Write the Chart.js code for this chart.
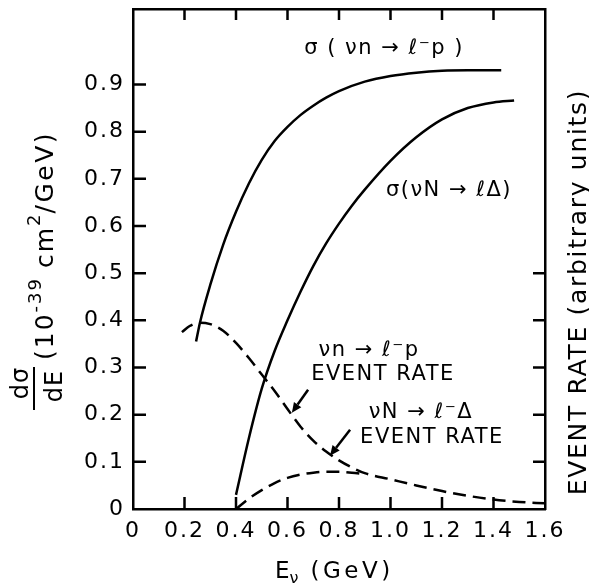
<!DOCTYPE html>
<html><head><meta charset="utf-8">
<script src="https://cdn.jsdelivr.net/npm/chart.js@4.4.0/dist/chart.umd.min.js"></script>
<style>html,body{margin:0;padding:0;background:#fff;} #wrap{width:589px;height:587px;}</style>
</head><body><div id="wrap"><canvas id="c" width="589" height="587"></canvas></div>
<script>
// ---- tick values / labels ----
const xTickValues = [0, 0.2, 0.4, 0.6, 0.8, 1.0, 1.2, 1.4, 1.6];
const xTickLabels = ['0', '0.2', '0.4', '0.6', '0.8', '1.0', '1.2', '1.4', '1.6'];
const yTickValues = [0, 0.1, 0.2, 0.3, 0.4, 0.5, 0.6, 0.7, 0.8, 0.9];
const yTickLabels = ['0', '0.1', '0.2', '0.3', '0.4', '0.5', '0.6', '0.7', '0.8', '0.9'];
const rightTickValues = [0.1, 0.2, 0.3, 0.4, 0.5];

// ---- series: sigma(nu n -> l- p) ----
const sigmaNpE = [0.245, 0.26, 0.30, 0.35, 0.40, 0.45, 0.50, 0.55, 0.60, 0.65, 0.70, 0.75, 0.80, 0.90, 1.00, 1.10, 1.20, 1.30, 1.43];
const sigmaNpV = [0.355, 0.395, 0.475, 0.56, 0.63, 0.69, 0.74, 0.78, 0.81, 0.835, 0.855, 0.872, 0.886, 0.906, 0.918, 0.925, 0.929, 0.93, 0.93];
// ---- sigma(nu N -> l Delta) ----
const sigmaDeltaE = [0.40, 0.45, 0.50, 0.55, 0.60, 0.65, 0.70, 0.75, 0.80, 0.85, 0.90, 1.00, 1.10, 1.20, 1.30, 1.40, 1.48];
const sigmaDeltaV = [0.03, 0.15, 0.255, 0.335, 0.40, 0.46, 0.515, 0.563, 0.605, 0.643, 0.677, 0.738, 0.788, 0.826, 0.85, 0.862, 0.866];
// ---- event rate nu n -> l- p ----
const rateNpE = [0.19, 0.22, 0.26, 0.30, 0.35, 0.40, 0.45, 0.50, 0.55, 0.60, 0.65, 0.70, 0.75, 0.80, 0.85, 0.90, 1.00, 1.10, 1.20, 1.30, 1.40, 1.50, 1.60];
const rateNpV = [0.375, 0.388, 0.395, 0.392, 0.378, 0.352, 0.320, 0.285, 0.250, 0.212, 0.175, 0.145, 0.122, 0.103, 0.088, 0.076, 0.063, 0.050, 0.038, 0.028, 0.020, 0.015, 0.012];
// ---- event rate nu N -> l- Delta ----
const rateDeltaE = [0.40, 0.45, 0.50, 0.55, 0.60, 0.65, 0.70, 0.75, 0.80, 0.85, 0.90];
const rateDeltaV = [0.0, 0.022, 0.040, 0.055, 0.066, 0.073, 0.077, 0.079, 0.079, 0.077, 0.074];

// ---- annotations (in data units) ----
const annotationTexts = [
  {text: 'σ ( νn → ℓ⁻p )', E: 0.975, v: 0.977},
  {text: 'σ(νN → ℓΔ)', E: 1.227, v: 0.676},
  {text: 'νn → ℓ⁻p', E: 0.917, v: 0.336},
  {text: 'EVENT RATE', E: 0.971, v: 0.285},
  {text: 'νN → ℓ⁻Δ', E: 1.118, v: 0.204},
  {text: 'EVENT RATE', E: 1.161, v: 0.151}
];
const annotationArrows = [
  {fromE: 0.680, fromV: 0.253, toE: 0.617, toV: 0.204},
  {fromE: 0.843, fromV: 0.168, toE: 0.765, toV: 0.113}
];

const FONT = 'DejaVu Sans';
const zip = (xs, ys) => xs.map((x, i) => ({x: x, y: ys[i]}));

const tickMarks = {
  id: 'tickMarks',
  beforeLayout(chart) { chart.ctx.letterSpacing = '2px'; },
  beforeDraw(chart) { chart.ctx.letterSpacing = '2px'; },
  afterDraw(chart) {
    const ctx = chart.ctx;
    const a = chart.chartArea;
    const sx = chart.scales.x, sy = chart.scales.y, sy2 = chart.scales.y2;
    ctx.save();
    ctx.strokeStyle = '#000';
    ctx.lineWidth = 2.5;
    ctx.beginPath();
    sx.ticks.forEach(t => {
      if (t.value <= 0 || t.value >= 1.6) return;
      const px = sx.getPixelForValue(t.value);
      ctx.moveTo(px, a.bottom); ctx.lineTo(px, a.bottom - 12);
      ctx.moveTo(px, a.top); ctx.lineTo(px, a.top + 11);
    });
    sy.ticks.forEach(t => {
      if (t.value <= 0) return;
      const py = sy.getPixelForValue(t.value);
      ctx.moveTo(a.left, py); ctx.lineTo(a.left + 13, py);
    });
    sy2.ticks.forEach(t => {
      const py = sy2.getPixelForValue(t.value);
      ctx.moveTo(a.right, py); ctx.lineTo(a.right - 12, py);
    });
    ctx.stroke();

    // annotations
    ctx.fillStyle = '#000';
    ctx.letterSpacing = '1.5px';
    ctx.font = '21px ' + FONT;
    ctx.textAlign = 'center';
    ctx.textBaseline = 'middle';
    annotationTexts.forEach(an => {
      ctx.fillText(an.text, sx.getPixelForValue(an.E), sy.getPixelForValue(an.v));
    });
    // arrows
    ctx.lineWidth = 2.5;
    annotationArrows.forEach(ar => {
      const x1 = sx.getPixelForValue(ar.fromE), y1 = sy.getPixelForValue(ar.fromV);
      const x2 = sx.getPixelForValue(ar.toE), y2 = sy.getPixelForValue(ar.toV);
      const ang = Math.atan2(y2 - y1, x2 - x1);
      const hl = 10, hw = 4.5;
      const bx = x2 - hl * Math.cos(ang), by = y2 - hl * Math.sin(ang);
      ctx.beginPath(); ctx.moveTo(x1, y1); ctx.lineTo(bx, by); ctx.stroke();
      ctx.beginPath();
      ctx.moveTo(x2, y2);
      ctx.lineTo(bx + hw * Math.sin(ang), by - hw * Math.cos(ang));
      ctx.lineTo(bx - hw * Math.sin(ang), by + hw * Math.cos(ang));
      ctx.closePath(); ctx.fill();
    });

    // run helper
    function runs(list) {
      let u = 0;
      list.forEach(r => {
        ctx.font = r.size + 'px ' + FONT;
        ctx.letterSpacing = (r.ls || 0) + 'px';
        u += (r.gap || 0);
        ctx.fillText(r.t, u, r.dy || 0);
        u += ctx.measureText(r.t).width;
      });
    }
    ctx.textAlign = 'left';
    ctx.textBaseline = 'alphabetic';

    // x title
    ctx.save();
    ctx.translate(275, 578);
    runs([
      {t: 'E', size: 23, ls: 0},
      {t: 'ν', size: 16, dy: 5, ls: 0},
      {t: '(GeV)', size: 23, ls: 3.5, gap: 12}
    ]);
    ctx.restore();

    // left title
    ctx.save();
    ctx.translate(53, 360);
    ctx.rotate(-Math.PI / 2);
    runs([
      {t: '(10', size: 25, ls: 2},
      {t: '-39', size: 18, dy: -12, ls: 2},
      {t: 'cm', size: 25, ls: 2, gap: 9},
      {t: '2', size: 18, dy: -13, ls: 0},
      {t: '/GeV)', size: 25, ls: 2.5, gap: 1}
    ]);
    ctx.restore();
    // fraction d sigma / dE
    ctx.save();
    ctx.rotate(-Math.PI / 2);
    ctx.textAlign = 'center';
    ctx.font = '24px ' + FONT;
    ctx.letterSpacing = '1px';
    ctx.fillText('dσ', -383, 28);
    ctx.fillText('dE', -386, 62);
    ctx.restore();
    ctx.beginPath(); ctx.lineWidth = 2; ctx.moveTo(34, 367); ctx.lineTo(34, 410); ctx.stroke();

    // right title
    ctx.save();
    ctx.translate(586, 292);
    ctx.rotate(-Math.PI / 2);
    ctx.textAlign = 'center';
    ctx.font = '25px ' + FONT;
    ctx.letterSpacing = '1.7px';
    ctx.fillText('EVENT RATE (arbitrary units)', 0, 0);
    ctx.restore();

    ctx.restore();
  }
};

const black = '#000';
const borderOpt = {display: true, width: 2.5, color: black};
const gridOpt = {display: true, drawOnChartArea: false, drawTicks: false};
const noPad = s => { s.paddingTop = 0; s.paddingBottom = 0; s.paddingLeft = 0; s.paddingRight = 0; };

new Chart(document.getElementById('c'), {
  type: 'line',
  data: {
    datasets: [
      {data: zip(sigmaNpE, sigmaNpV), borderColor: black, borderWidth: 2.5, pointRadius: 0, cubicInterpolationMode: 'monotone', fill: false},
      {data: zip(sigmaDeltaE, sigmaDeltaV), borderColor: black, borderWidth: 2.5, pointRadius: 0, cubicInterpolationMode: 'monotone', fill: false},
      {data: zip(rateNpE, rateNpV), borderColor: black, borderWidth: 2.5, borderDash: [13, 7], pointRadius: 0, cubicInterpolationMode: 'monotone', fill: false},
      {data: zip(rateDeltaE, rateDeltaV), borderColor: black, borderWidth: 2.5, borderDash: [13, 7], pointRadius: 0, cubicInterpolationMode: 'monotone', fill: false}
    ]
  },
  options: {
    responsive: false,
    animation: false,
    layout: {padding: 0},
    plugins: {legend: {display: false}, tooltip: {enabled: false}},
    scales: {
      x: {
        type: 'linear', position: 'bottom', min: 0, max: 1.6,
        afterBuildTicks: s => { s.ticks = xTickValues.map(v => ({value: v})); },
        ticks: {callback: (v, i) => xTickLabels[i], font: {family: FONT, size: 22}, color: black, padding: 9, maxRotation: 0, autoSkip: false},
        grid: gridOpt, border: borderOpt,
        afterFit: s => { s.height = 78; noPad(s); }
      },
      x2: {
        type: 'linear', position: 'top', min: 0, max: 1.6,
        afterBuildTicks: s => { s.ticks = xTickValues.map(v => ({value: v})); },
        ticks: {display: false},
        grid: gridOpt, border: borderOpt,
        afterFit: s => { s.height = 9; noPad(s); }
      },
      y: {
        type: 'linear', position: 'left', min: 0, max: 1.06,
        afterBuildTicks: s => { s.ticks = yTickValues.map(v => ({value: v})); },
        ticks: {callback: (v, i) => yTickLabels[i], font: {family: FONT, size: 22}, color: black, padding: 8, autoSkip: false},
        grid: gridOpt, border: borderOpt,
        afterFit: s => { s.width = 133; noPad(s); }
      },
      y2: {
        type: 'linear', position: 'right', min: 0, max: 1.06,
        afterBuildTicks: s => { s.ticks = rightTickValues.map(v => ({value: v})); },
        ticks: {display: false},
        grid: gridOpt, border: borderOpt,
        afterFit: s => { s.width = 44; noPad(s); }
      }
    }
  },
  plugins: [tickMarks]
});
</script>
</body></html>
